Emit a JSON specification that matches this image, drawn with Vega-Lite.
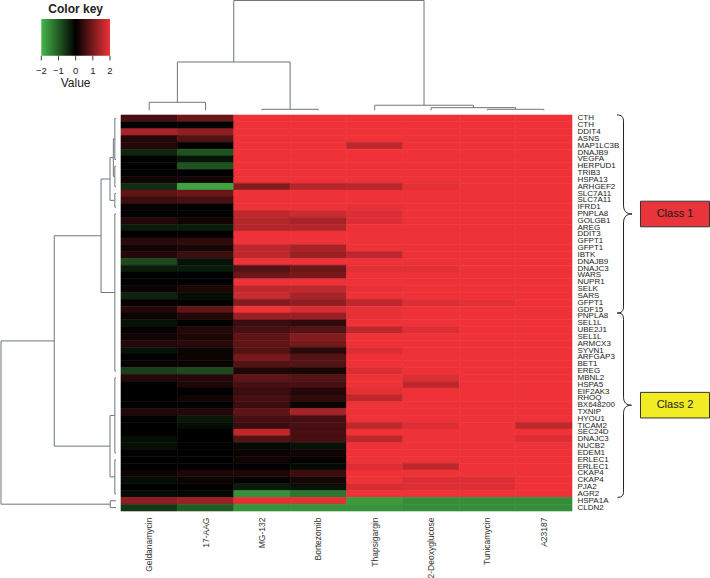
{
  "$schema": "https://vega.github.io/schema/vega-lite/v6.json",
  "width": 451,
  "height": 396,
  "autosize": {"type": "none"},
  "padding": {"left": 121, "top": 115, "right": 138, "bottom": 67},
  "background": "#ffffff",
  "config": {"view": {"stroke": null}, "font": "Liberation Sans"},
  "datasets": {
    "genes": [
      {"id": "01 CTH", "Geldanamycin": 0.6, "17-AAG": 0.9, "MG-132": 2, "Bortezomib": 2, "Thapsigargin": 2, "2-Deoxyglucose": 2, "Tunicamycin": 2, "A23187": 2},
      {"id": "02 CTH", "Geldanamycin": 0, "17-AAG": 0, "MG-132": 2, "Bortezomib": 2, "Thapsigargin": 2, "2-Deoxyglucose": 2, "Tunicamycin": 2, "A23187": 2},
      {"id": "03 DDIT4", "Geldanamycin": 1.4, "17-AAG": 1.2, "MG-132": 2, "Bortezomib": 2, "Thapsigargin": 2, "2-Deoxyglucose": 2, "Tunicamycin": 2, "A23187": 2},
      {"id": "04 ASNS", "Geldanamycin": 0.3, "17-AAG": 0.7, "MG-132": 2, "Bortezomib": 2, "Thapsigargin": 2, "2-Deoxyglucose": 2, "Tunicamycin": 2, "A23187": 2},
      {"id": "05 MAP1LC3B", "Geldanamycin": 0.3, "17-AAG": 0.05, "MG-132": 2, "Bortezomib": 2, "Thapsigargin": 1.6, "2-Deoxyglucose": 2, "Tunicamycin": 2, "A23187": 2},
      {"id": "06 DNAJB9", "Geldanamycin": -0.4, "17-AAG": -0.9, "MG-132": 2, "Bortezomib": 2, "Thapsigargin": 2, "2-Deoxyglucose": 2, "Tunicamycin": 2, "A23187": 2},
      {"id": "07 VEGFA", "Geldanamycin": 0, "17-AAG": -0.2, "MG-132": 2, "Bortezomib": 2, "Thapsigargin": 2, "2-Deoxyglucose": 2, "Tunicamycin": 2, "A23187": 2},
      {"id": "08 HERPUD1", "Geldanamycin": 0, "17-AAG": -0.9, "MG-132": 2, "Bortezomib": 2, "Thapsigargin": 2, "2-Deoxyglucose": 2, "Tunicamycin": 2, "A23187": 2},
      {"id": "09 TRIB3", "Geldanamycin": 0, "17-AAG": 0, "MG-132": 2, "Bortezomib": 2, "Thapsigargin": 2, "2-Deoxyglucose": 2, "Tunicamycin": 2, "A23187": 2},
      {"id": "10 HSPA13", "Geldanamycin": 0.15, "17-AAG": 0.15, "MG-132": 2, "Bortezomib": 2, "Thapsigargin": 2, "2-Deoxyglucose": 2, "Tunicamycin": 2, "A23187": 2},
      {"id": "11 ARHGEF2", "Geldanamycin": -0.5, "17-AAG": -1.8, "MG-132": 1.1, "Bortezomib": 1.5, "Thapsigargin": 1.55, "2-Deoxyglucose": 1.9, "Tunicamycin": 2, "A23187": 2},
      {"id": "12 SLC7A11", "Geldanamycin": 0.8, "17-AAG": 0.9, "MG-132": 2, "Bortezomib": 2, "Thapsigargin": 2, "2-Deoxyglucose": 2, "Tunicamycin": 2, "A23187": 2},
      {"id": "13 SLC7A11", "Geldanamycin": 0.5, "17-AAG": 0.6, "MG-132": 2, "Bortezomib": 2, "Thapsigargin": 2, "2-Deoxyglucose": 2, "Tunicamycin": 2, "A23187": 2},
      {"id": "14 IFRD1", "Geldanamycin": 0.05, "17-AAG": 0, "MG-132": 2, "Bortezomib": 2, "Thapsigargin": 1.95, "2-Deoxyglucose": 2, "Tunicamycin": 2, "A23187": 2},
      {"id": "15 PNPLA8", "Geldanamycin": 0, "17-AAG": 0, "MG-132": 1.6, "Bortezomib": 1.7, "Thapsigargin": 1.85, "2-Deoxyglucose": 2, "Tunicamycin": 2, "A23187": 2},
      {"id": "16 GOLGB1", "Geldanamycin": 0.3, "17-AAG": 0.15, "MG-132": 1.5, "Bortezomib": 1.4, "Thapsigargin": 1.85, "2-Deoxyglucose": 2, "Tunicamycin": 2, "A23187": 2},
      {"id": "17 AREG", "Geldanamycin": -0.3, "17-AAG": -0.3, "MG-132": 1.5, "Bortezomib": 1.5, "Thapsigargin": 2, "2-Deoxyglucose": 2, "Tunicamycin": 2, "A23187": 2},
      {"id": "18 DDIT3", "Geldanamycin": 0, "17-AAG": 0, "MG-132": 2, "Bortezomib": 2, "Thapsigargin": 2, "2-Deoxyglucose": 2, "Tunicamycin": 2, "A23187": 2},
      {"id": "19 GFPT1", "Geldanamycin": 0.35, "17-AAG": 0.4, "MG-132": 2, "Bortezomib": 2, "Thapsigargin": 2, "2-Deoxyglucose": 2, "Tunicamycin": 2, "A23187": 2},
      {"id": "20 GFPT1", "Geldanamycin": 0.15, "17-AAG": 0.2, "MG-132": 1.6, "Bortezomib": 1.4, "Thapsigargin": 2, "2-Deoxyglucose": 2, "Tunicamycin": 2, "A23187": 2},
      {"id": "21 IBTK", "Geldanamycin": 0.3, "17-AAG": 0.5, "MG-132": 1.6, "Bortezomib": 1.3, "Thapsigargin": 1.6, "2-Deoxyglucose": 2, "Tunicamycin": 2, "A23187": 2},
      {"id": "22 DNAJB9", "Geldanamycin": -0.8, "17-AAG": -0.2, "MG-132": 2, "Bortezomib": 2, "Thapsigargin": 2, "2-Deoxyglucose": 2, "Tunicamycin": 2, "A23187": 2},
      {"id": "23 DNAJC3", "Geldanamycin": -0.3, "17-AAG": -0.3, "MG-132": 0.7, "Bortezomib": 0.9, "Thapsigargin": 1.9, "2-Deoxyglucose": 1.9, "Tunicamycin": 2, "A23187": 2},
      {"id": "24 WARS", "Geldanamycin": 0, "17-AAG": 0, "MG-132": 0.9, "Bortezomib": 1.0, "Thapsigargin": 2, "2-Deoxyglucose": 2, "Tunicamycin": 2, "A23187": 2},
      {"id": "25 NUPR1", "Geldanamycin": 0, "17-AAG": 0, "MG-132": 2, "Bortezomib": 2, "Thapsigargin": 2, "2-Deoxyglucose": 2, "Tunicamycin": 2, "A23187": 2},
      {"id": "26 SELK", "Geldanamycin": 0.1, "17-AAG": 0.25, "MG-132": 1.6, "Bortezomib": 1.6, "Thapsigargin": 1.95, "2-Deoxyglucose": 2, "Tunicamycin": 2, "A23187": 2},
      {"id": "27 SARS", "Geldanamycin": -0.4, "17-AAG": -0.15, "MG-132": 1.7, "Bortezomib": 1.4, "Thapsigargin": 2, "2-Deoxyglucose": 2, "Tunicamycin": 2, "A23187": 2},
      {"id": "28 GFPT1", "Geldanamycin": 0.05, "17-AAG": 0, "MG-132": 1.1, "Bortezomib": 1.2, "Thapsigargin": 1.6, "2-Deoxyglucose": 1.85, "Tunicamycin": 1.9, "A23187": 2},
      {"id": "29 GDF15", "Geldanamycin": 0.3, "17-AAG": 0.8, "MG-132": 2, "Bortezomib": 1.8, "Thapsigargin": 1.95, "2-Deoxyglucose": 2, "Tunicamycin": 2, "A23187": 2},
      {"id": "30 PNPLA8", "Geldanamycin": 0.1, "17-AAG": 0.3, "MG-132": 1.3, "Bortezomib": 1.3, "Thapsigargin": 1.95, "2-Deoxyglucose": 2, "Tunicamycin": 2, "A23187": 2},
      {"id": "31 SEL1L", "Geldanamycin": -0.2, "17-AAG": 0, "MG-132": 0.5, "Bortezomib": 0.4, "Thapsigargin": 2, "2-Deoxyglucose": 2, "Tunicamycin": 2, "A23187": 2},
      {"id": "32 UBE2J1", "Geldanamycin": 0.05, "17-AAG": 0.3, "MG-132": 0.6, "Bortezomib": 0.7, "Thapsigargin": 1.6, "2-Deoxyglucose": 1.85, "Tunicamycin": 2, "A23187": 2},
      {"id": "33 SEL1L", "Geldanamycin": 0.15, "17-AAG": 0.25, "MG-132": 0.8, "Bortezomib": 1.1, "Thapsigargin": 2, "2-Deoxyglucose": 2, "Tunicamycin": 2, "A23187": 2},
      {"id": "34 ARMCX3", "Geldanamycin": 0.3, "17-AAG": 0.35, "MG-132": 0.8, "Bortezomib": 1.0, "Thapsigargin": 2, "2-Deoxyglucose": 2, "Tunicamycin": 2, "A23187": 2},
      {"id": "35 SYVN1", "Geldanamycin": -0.2, "17-AAG": 0.1, "MG-132": 0.7, "Bortezomib": 0.35, "Thapsigargin": 1.85, "2-Deoxyglucose": 2, "Tunicamycin": 2, "A23187": 2},
      {"id": "36 ARFGAP3", "Geldanamycin": 0, "17-AAG": 0.1, "MG-132": 1.0, "Bortezomib": 0.7, "Thapsigargin": 2, "2-Deoxyglucose": 2, "Tunicamycin": 2, "A23187": 2},
      {"id": "37 BET1", "Geldanamycin": 0.1, "17-AAG": 0.1, "MG-132": 0.7, "Bortezomib": 0.7, "Thapsigargin": 2, "2-Deoxyglucose": 2, "Tunicamycin": 2, "A23187": 2},
      {"id": "38 EREG", "Geldanamycin": -0.7, "17-AAG": -0.8, "MG-132": 0.25, "Bortezomib": 0.2, "Thapsigargin": 1.85, "2-Deoxyglucose": 2, "Tunicamycin": 2, "A23187": 2},
      {"id": "39 MBNL2", "Geldanamycin": 0.3, "17-AAG": 0.3, "MG-132": 0.8, "Bortezomib": 0.7, "Thapsigargin": 2, "2-Deoxyglucose": 1.85, "Tunicamycin": 2, "A23187": 2},
      {"id": "40 HSPA5", "Geldanamycin": 0, "17-AAG": 0.25, "MG-132": 0.6, "Bortezomib": 0.6, "Thapsigargin": 2, "2-Deoxyglucose": 1.6, "Tunicamycin": 2, "A23187": 2},
      {"id": "41 EIF2AK3", "Geldanamycin": 0, "17-AAG": 0, "MG-132": 0.5, "Bortezomib": 0.3, "Thapsigargin": 1.9, "2-Deoxyglucose": 2, "Tunicamycin": 2, "A23187": 2},
      {"id": "42 RHOQ", "Geldanamycin": 0, "17-AAG": 0.15, "MG-132": 0.6, "Bortezomib": 0.4, "Thapsigargin": 1.6, "2-Deoxyglucose": 2, "Tunicamycin": 2, "A23187": 2},
      {"id": "43 BX648200", "Geldanamycin": 0, "17-AAG": 0, "MG-132": 0.5, "Bortezomib": 0.1, "Thapsigargin": 2, "2-Deoxyglucose": 2, "Tunicamycin": 2, "A23187": 2},
      {"id": "44 TXNIP", "Geldanamycin": 0.3, "17-AAG": 0.3, "MG-132": 0.8, "Bortezomib": 1.4, "Thapsigargin": 2, "2-Deoxyglucose": 2, "Tunicamycin": 2, "A23187": 2},
      {"id": "45 HYOU1", "Geldanamycin": 0, "17-AAG": -0.25, "MG-132": 0.6, "Bortezomib": 0.6, "Thapsigargin": 2, "2-Deoxyglucose": 2, "Tunicamycin": 2, "A23187": 2},
      {"id": "46 TICAM2", "Geldanamycin": 0, "17-AAG": -0.15, "MG-132": 0.5, "Bortezomib": 0.6, "Thapsigargin": 1.6, "2-Deoxyglucose": 1.85, "Tunicamycin": 2, "A23187": 1.6},
      {"id": "47 SEC24D", "Geldanamycin": 0, "17-AAG": 0, "MG-132": 1.6, "Bortezomib": 0.6, "Thapsigargin": 2, "2-Deoxyglucose": 2, "Tunicamycin": 2, "A23187": 2},
      {"id": "48 DNAJC3", "Geldanamycin": -0.15, "17-AAG": 0, "MG-132": 0.7, "Bortezomib": 0.6, "Thapsigargin": 1.6, "2-Deoxyglucose": 2, "Tunicamycin": 2, "A23187": 1.85},
      {"id": "49 NUCB2", "Geldanamycin": -0.15, "17-AAG": 0, "MG-132": -0.1, "Bortezomib": -0.2, "Thapsigargin": 2, "2-Deoxyglucose": 2, "Tunicamycin": 2, "A23187": 2},
      {"id": "50 EDEM1", "Geldanamycin": 0, "17-AAG": 0, "MG-132": 0.1, "Bortezomib": 0.15, "Thapsigargin": 2, "2-Deoxyglucose": 2, "Tunicamycin": 2, "A23187": 2},
      {"id": "51 ERLEC1", "Geldanamycin": 0, "17-AAG": 0, "MG-132": 0.15, "Bortezomib": 0.05, "Thapsigargin": 2, "2-Deoxyglucose": 2, "Tunicamycin": 2, "A23187": 2},
      {"id": "52 ERLEC1", "Geldanamycin": 0, "17-AAG": 0, "MG-132": 0, "Bortezomib": -0.1, "Thapsigargin": 1.85, "2-Deoxyglucose": 1.6, "Tunicamycin": 2, "A23187": 2},
      {"id": "53 CKAP4", "Geldanamycin": 0.1, "17-AAG": 0.25, "MG-132": 0.25, "Bortezomib": 0.5, "Thapsigargin": 2, "2-Deoxyglucose": 2, "Tunicamycin": 2, "A23187": 2},
      {"id": "54 CKAP4", "Geldanamycin": -0.15, "17-AAG": 0.1, "MG-132": 0.05, "Bortezomib": 0.2, "Thapsigargin": 2, "2-Deoxyglucose": 1.85, "Tunicamycin": 1.85, "A23187": 2},
      {"id": "55 PJA2", "Geldanamycin": 0, "17-AAG": 0, "MG-132": -0.3, "Bortezomib": -0.2, "Thapsigargin": 1.8, "2-Deoxyglucose": 1.85, "Tunicamycin": 1.85, "A23187": 2},
      {"id": "56 AGR2", "Geldanamycin": -0.15, "17-AAG": -0.1, "MG-132": -1.6, "Bortezomib": -1.3, "Thapsigargin": 2, "2-Deoxyglucose": 2, "Tunicamycin": 2, "A23187": 2},
      {"id": "57 HSPA1A", "Geldanamycin": 1.2, "17-AAG": 1.3, "MG-132": 1.9, "Bortezomib": 1.9, "Thapsigargin": -1.7, "2-Deoxyglucose": -1.55, "Tunicamycin": -1.55, "A23187": -1.55},
      {"id": "58 CLDN2", "Geldanamycin": -0.6, "17-AAG": -1.0, "MG-132": -1.6, "Bortezomib": -1.6, "Thapsigargin": -1.6, "2-Deoxyglucose": -1.55, "Tunicamycin": -1.55, "A23187": -1.55}
    ],
    "colmerge": [
      {"a": 0.5, "b": 1.5, "ha": 0, "hb": 0, "h": 0.073},
      {"a": 2.5, "b": 3.5, "ha": 0, "hb": 0, "h": 0.009},
      {"a": 1.0, "b": 3.0, "ha": 0.073, "hb": 0.009, "h": 0.44},
      {"a": 6.5, "b": 7.5, "ha": 0, "hb": 0, "h": 0.009},
      {"a": 5.5, "b": 7.0, "ha": 0, "hb": 0.009, "h": 0.024},
      {"a": 4.5, "b": 6.25, "ha": 0, "hb": 0.024, "h": 0.046},
      {"a": 2.0, "b": 5.375, "ha": 0.44, "hb": 0.046, "h": 1.0}
    ],
    "rowmerge": [
      {"a": 0.5, "b": 6.5, "ha": 0, "hb": 0, "h": 0.01},
      {"a": 7.5, "b": 10.5, "ha": 0, "hb": 0, "h": 0.01},
      {"a": 3.5, "b": 9.0, "ha": 0.01, "hb": 0.01, "h": 0.023},
      {"a": 11.5, "b": 13.5, "ha": 0, "hb": 0, "h": 0.01},
      {"a": 6.25, "b": 12.5, "ha": 0.023, "hb": 0.01, "h": 0.052},
      {"a": 14.5, "b": 37.5, "ha": 0, "hb": 0, "h": 0.01},
      {"a": 9.375, "b": 26.0, "ha": 0.052, "hb": 0.01, "h": 0.13},
      {"a": 38.5, "b": 49.5, "ha": 0, "hb": 0, "h": 0.01},
      {"a": 50.5, "b": 55.5, "ha": 0, "hb": 0, "h": 0.01},
      {"a": 44.0, "b": 53.0, "ha": 0.01, "hb": 0.01, "h": 0.052},
      {"a": 17.6875, "b": 48.5, "ha": 0.13, "hb": 0.052, "h": 0.537},
      {"a": 56.5, "b": 57.5, "ha": 0, "hb": 0, "h": 0.05},
      {"a": 33.09, "b": 57.0, "ha": 0.537, "hb": 0.05, "h": 1.0}
    ],
    "classes": [
      {"cls": "Class 1", "mid": 14.5, "n": 29},
      {"cls": "Class 2", "mid": 42.5, "n": 27}
    ],
    "keyticks": [{"v": -2}, {"v": -1}, {"v": 0}, {"v": 1}, {"v": 2}]
  },
  "layer": [
    {
      "data": {"name": "genes"},
      "transform": [{"fold": ["Geldanamycin", "17-AAG", "MG-132", "Bortezomib", "Thapsigargin", "2-Deoxyglucose", "Tunicamycin", "A23187"], "as": ["drug", "value"]}],
      "mark": {"type": "rect", "strokeWidth": 0.6},
      "encoding": {
        "x": {
          "field": "drug", "type": "nominal", "title": null,
          "sort": ["Geldanamycin", "17-AAG", "MG-132", "Bortezomib", "Thapsigargin", "2-Deoxyglucose", "Tunicamycin", "A23187"],
          "scale": {"paddingInner": 0, "paddingOuter": 0},
          "axis": {"orient": "bottom", "domain": false, "ticks": false, "labelAngle": 270, "labelAlign": "right", "labelBaseline": "middle", "labelPadding": 6, "labelFontSize": 8.5, "labelColor": "#333333", "labelFont": "Liberation Sans"}
        },
        "y": {
          "field": "id", "type": "nominal", "title": null, "sort": "ascending",
          "scale": {"paddingInner": 0, "paddingOuter": 0},
          "axis": {"orient": "right", "domain": false, "ticks": false, "labelPadding": 5, "labelFontSize": 8, "labelFont": "Liberation Sans", "labelColor": "#222222", "labelOverlap": false, "labelExpr": "substring(datum.label, 3)"}
        },
        "fill": {
          "field": "value", "type": "quantitative",
          "scale": {"domain": [-2, 0, 2], "range": ["#45b649", "#000000", "#ee3238"], "interpolate": "rgb", "clamp": true},
          "legend": null
        },
        "stroke": {
          "field": "value", "type": "quantitative",
          "scale": {"domain": [-2, 0, 2], "range": ["#45b649", "#000000", "#ee3238"], "interpolate": "rgb", "clamp": true},
          "legend": null
        }
      }
    },
    {
      "data": {"name": "colmerge"},
      "layer": [
        {
          "mark": {"type": "rule", "color": "#6e767b", "strokeWidth": 1},
          "encoding": {
            "x": {"field": "a", "type": "quantitative", "scale": {"domain": [0, 8], "range": [0, 451], "nice": false, "zero": false}, "axis": null},
            "y": {"field": "ha", "type": "quantitative", "scale": {"domain": [0, 1], "range": [-4.7, -114.5], "nice": false, "zero": false}, "axis": null},
            "y2": {"field": "h"}
          }
        },
        {
          "mark": {"type": "rule", "color": "#6e767b", "strokeWidth": 1},
          "encoding": {
            "x": {"field": "b", "type": "quantitative", "scale": {"domain": [0, 8], "range": [0, 451], "nice": false, "zero": false}, "axis": null},
            "y": {"field": "hb", "type": "quantitative", "scale": {"domain": [0, 1], "range": [-4.7, -114.5], "nice": false, "zero": false}, "axis": null},
            "y2": {"field": "h"}
          }
        },
        {
          "mark": {"type": "rule", "color": "#6e767b", "strokeWidth": 1},
          "encoding": {
            "x": {"field": "a", "type": "quantitative", "scale": {"domain": [0, 8], "range": [0, 451], "nice": false, "zero": false}, "axis": null},
            "x2": {"field": "b"},
            "y": {"field": "h", "type": "quantitative", "scale": {"domain": [0, 1], "range": [-4.7, -114.5], "nice": false, "zero": false}, "axis": null}
          }
        }
      ]
    },
    {
      "data": {"name": "rowmerge"},
      "layer": [
        {
          "mark": {"type": "rule", "color": "#6e767b", "strokeWidth": 1},
          "encoding": {
            "y": {"field": "a", "type": "quantitative", "scale": {"domain": [0, 58], "range": [0, 396], "nice": false, "zero": false}, "axis": null},
            "x": {"field": "ha", "type": "quantitative", "scale": {"domain": [0, 1], "range": [-5, -120], "nice": false, "zero": false}, "axis": null},
            "x2": {"field": "h"}
          }
        },
        {
          "mark": {"type": "rule", "color": "#6e767b", "strokeWidth": 1},
          "encoding": {
            "y": {"field": "b", "type": "quantitative", "scale": {"domain": [0, 58], "range": [0, 396], "nice": false, "zero": false}, "axis": null},
            "x": {"field": "hb", "type": "quantitative", "scale": {"domain": [0, 1], "range": [-5, -120], "nice": false, "zero": false}, "axis": null},
            "x2": {"field": "h"}
          }
        },
        {
          "mark": {"type": "rule", "color": "#6e767b", "strokeWidth": 1},
          "encoding": {
            "x": {"field": "h", "type": "quantitative", "scale": {"domain": [0, 1], "range": [-5, -120], "nice": false, "zero": false}, "axis": null},
            "y": {"field": "a", "type": "quantitative", "scale": {"domain": [0, 58], "range": [0, 396], "nice": false, "zero": false}, "axis": null},
            "y2": {"field": "b"}
          }
        }
      ]
    },
    {
      "layer": [
        {
          "data": {"values": [{"lo": -2, "hi": 2}]},
          "mark": {"type": "rect", "fill": {"gradient": "linear", "x1": 0, "y1": 0, "x2": 1, "y2": 0, "stops": [{"offset": 0, "color": "#45b649"}, {"offset": 0.5, "color": "#000000"}, {"offset": 1, "color": "#ee3238"}]}},
          "encoding": {
            "x": {"field": "lo", "type": "quantitative", "scale": {"domain": [-2, 2], "range": [-79.7, -11], "nice": false, "zero": false}, "axis": null},
            "x2": {"field": "hi"},
            "y": {"datum": 0, "type": "quantitative", "scale": {"domain": [0, 1], "range": [-96, -59.3], "nice": false, "zero": false}, "axis": null},
            "y2": {"datum": 1}
          }
        },
        {
          "data": {"name": "keyticks"},
          "mark": {"type": "rule", "color": "#444444", "strokeWidth": 1},
          "encoding": {
            "x": {"field": "v", "type": "quantitative", "scale": {"domain": [-2, 2], "range": [-79.7, -11], "nice": false, "zero": false}, "axis": null},
            "y": {"datum": 1, "type": "quantitative", "scale": {"domain": [0, 1], "range": [-96, -59.3], "nice": false, "zero": false}, "axis": null},
            "y2": {"datum": 1.13}
          }
        },
        {
          "data": {"name": "keyticks"},
          "mark": {"type": "text", "fontSize": 9.5, "color": "#222222", "baseline": "middle", "align": "center"},
          "encoding": {
            "x": {"field": "v", "type": "quantitative", "scale": {"domain": [-2, 2], "range": [-79.7, -11], "nice": false, "zero": false}, "axis": null},
            "y": {"datum": 1.42, "type": "quantitative", "scale": {"domain": [0, 1], "range": [-96, -59.3], "nice": false, "zero": false}, "axis": null},
            "text": {"field": "v", "type": "quantitative", "format": "d"}
          }
        },
        {
          "data": {"values": [{}]},
          "mark": {"type": "text", "text": "Value", "fontSize": 12, "color": "#222222", "baseline": "middle", "align": "center"},
          "encoding": {
            "x": {"datum": 0, "type": "quantitative", "scale": {"domain": [-2, 2], "range": [-79.7, -11], "nice": false, "zero": false}, "axis": null},
            "y": {"datum": 1.75, "type": "quantitative", "scale": {"domain": [0, 1], "range": [-96, -59.3], "nice": false, "zero": false}, "axis": null}
          }
        },
        {
          "data": {"values": [{}]},
          "mark": {"type": "text", "text": "Color key", "fontSize": 12, "fontWeight": "bold", "color": "#222222", "baseline": "middle", "align": "center"},
          "encoding": {
            "x": {"datum": 0, "type": "quantitative", "scale": {"domain": [-2, 2], "range": [-79.7, -11], "nice": false, "zero": false}, "axis": null},
            "y": {"datum": -0.26, "type": "quantitative", "scale": {"domain": [0, 1], "range": [-96, -59.3], "nice": false, "zero": false}, "axis": null}
          }
        }
      ]
    },
    {
      "data": {"name": "classes"},
      "layer": [
        {
          "mark": {"type": "point", "shape": "M -0.066 -1 C -0.02 -1 0 -0.985 0 -0.93 L 0 -0.09 C 0 -0.03 0.03 0 0.086 0 C 0.03 0 0 0.03 0 0.09 L 0 0.93 C 0 0.985 -0.02 1 -0.066 1", "filled": false, "stroke": "#222222", "strokeWidth": 1, "opacity": 1},
          "encoding": {
            "x": {"datum": 8.914, "type": "quantitative", "scale": {"domain": [0, 8], "range": [0, 451], "nice": false, "zero": false}, "axis": null},
            "y": {"field": "mid", "type": "quantitative", "scale": {"domain": [0, 58], "range": [0, 396], "nice": false, "zero": false}, "axis": null},
            "size": {"field": "n", "type": "quantitative", "scale": {"type": "pow", "exponent": 2, "domain": [0, 58], "range": [0, 156816]}, "legend": null}
          }
        },
        {
          "mark": {"type": "point", "shape": "M -1 -0.371 H 1 V 0.371 H -1 Z", "filled": true, "size": 4761, "stroke": "#333333", "strokeWidth": 1, "opacity": 1},
          "encoding": {
            "x": {"datum": 9.827, "type": "quantitative", "scale": {"domain": [0, 8], "range": [0, 451], "nice": false, "zero": false}, "axis": null},
            "y": {"field": "mid", "type": "quantitative", "scale": {"domain": [0, 58], "range": [0, 396], "nice": false, "zero": false}, "axis": null},
            "fill": {"field": "cls", "type": "nominal", "scale": {"domain": ["Class 1", "Class 2"], "range": ["#e8343a", "#f2ec24"]}, "legend": null}
          }
        },
        {
          "mark": {"type": "text", "fontSize": 11, "color": "#1a1a1a", "baseline": "middle", "align": "center"},
          "encoding": {
            "x": {"datum": 9.827, "type": "quantitative", "scale": {"domain": [0, 8], "range": [0, 451], "nice": false, "zero": false}, "axis": null},
            "y": {"field": "mid", "type": "quantitative", "scale": {"domain": [0, 58], "range": [0, 396], "nice": false, "zero": false}, "axis": null},
            "text": {"field": "cls"}
          }
        }
      ]
    }
  ],
  "resolve": {
    "scale": {"x": "independent", "y": "independent", "fill": "independent", "size": "independent", "stroke": "independent"},
    "axis": {"x": "independent", "y": "independent"}
  }
}
